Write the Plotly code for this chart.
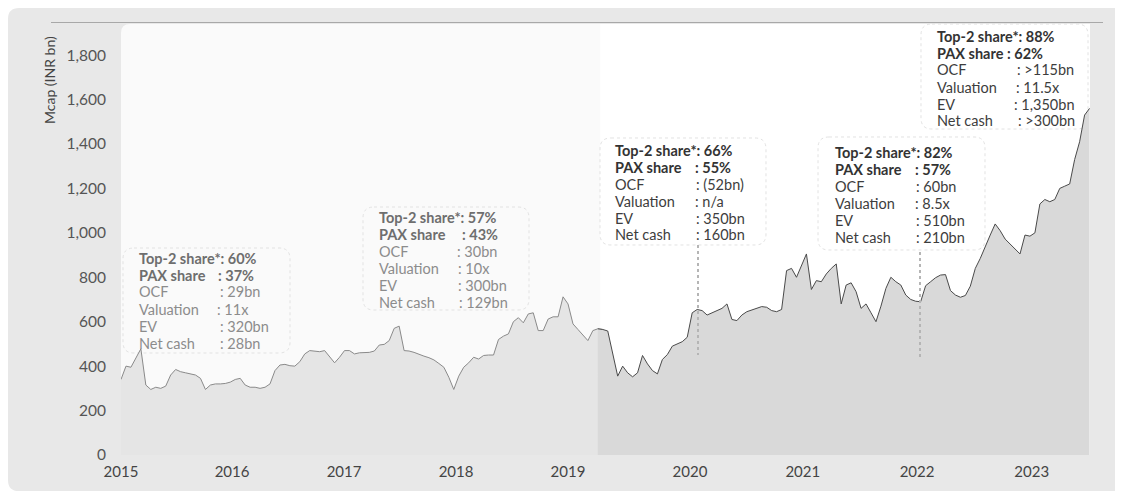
import plotly.graph_objects as go

# ---------------- data ----------------
years = ["2015", "2016", "2017", "2018", "2019", "2020", "2021", "2022", "2023"]
year_start_session = [0, 246, 494, 742, 990, 1260, 1510, 1763, 2017]
sample_step = 11
last_session = 2145
shade_start_session = 1061

mcap = [
    340, 400, 395, 440, 478, 315, 295, 305, 300, 310,
    360, 385, 375, 370, 365, 360, 345, 295, 315, 320,
    320, 322, 328, 340, 345, 315, 305, 305, 300, 305,
    320, 380, 405, 408, 402, 400, 420, 455, 470, 468,
    465, 470, 440, 415, 440, 470, 470, 455, 460, 460,
    462, 468, 495, 498, 515, 570, 580, 470, 468, 462,
    452, 445, 438, 428, 412, 395, 350, 295, 355, 395,
    415, 440, 432, 448, 450, 450, 520, 535, 545, 600,
    618, 595, 635, 640, 560, 560, 612, 622, 622, 712,
    680, 590, 565, 540, 515, 560, 568, 565, 558, 460,
    355, 400, 370, 352, 370, 448, 410, 380, 365, 430,
    452, 490, 500, 510, 530, 640, 655, 650, 630, 640,
    650, 660, 680, 610, 605, 630, 645, 652, 662, 668,
    665, 650, 645, 655, 830, 840, 800, 850, 905, 745,
    785, 780, 815, 840, 860, 680, 765, 775, 735, 660,
    680, 640, 600, 670, 750, 800, 780, 765, 720, 700,
    692, 690, 762, 780, 798, 810, 812, 740, 720, 710,
    718, 760, 840, 885, 940, 990, 1040, 1010, 972, 950,
    930, 905, 990, 985, 1000, 1130, 1150, 1140, 1150, 1200,
    1210, 1220, 1330, 1410, 1530, 1560,
]
sessions = [i * sample_step for i in range(len(mcap) - 1)] + [last_session]

y_ticks = [0, 200, 400, 600, 800, 1000, 1200, 1400, 1600, 1800]

top2_share = ["60%", "57%", "66%", "82%", "88%"]
pax_share = ["37%", "43%", "55%", "57%", "62%"]
ocf = ["29bn", "30bn", "(52bn)", "60bn", ">115bn"]
valuation = ["11x", "10x", "n/a", "8.5x", "11.5x"]
ev = ["320bn", "300bn", "350bn", "510bn", "1,350bn"]
net_cash = ["28bn", "129bn", "160bn", "210bn", ">300bn"]
row_labels = ["PAX share", "OCF", "Valuation", "EV", "Net cash"]

# ---------------- layout helpers (page pixels -> paper) ----------------
W, H = 1123, 493
OFF = 8  # page body margin
PL, PR, PT, PB = 121, 1090, 24, 455
X_MAX = 2146
Y_MAX = 1940
FONT = "Lato, 'Open Sans', sans-serif"


def fx(px):
    return (px - PL) / (PR - PL)


def fy(py):
    return (PB - py) / (PB - PT)


def rrect_path(x0, y0, x1, y1, r, corners=(True, True, True, True)):
    tl, tr, br, bl = [r if c else 0 for c in corners]
    P = lambda x, y: f"{fx(x):.5f},{fy(y):.5f}"
    d = f"M {P(x0 + tl, y0)} L {P(x1 - tr, y0)} "
    d += f"Q {P(x1, y0)} {P(x1, y0 + tr)} L {P(x1, y1 - br)} "
    d += f"Q {P(x1, y1)} {P(x1 - br, y1)} L {P(x0 + bl, y1)} "
    d += f"Q {P(x0, y1)} {P(x0, y1 - bl)} L {P(x0, y0 + tl)} "
    d += f"Q {P(x0, y0)} {P(x0 + tl, y0)} Z"
    return d


split_lo = max(i for i, s in enumerate(sessions) if s <= shade_start_session)
split_hi = split_lo + 1

fig = go.Figure()
fig.add_trace(go.Scatter(
    x=sessions[:split_hi + 1], y=mcap[:split_hi + 1], mode="lines",
    line=dict(color="#8a8a8a", width=1), fill="tozeroy", fillcolor="#e5e5e5",
    hoverinfo="skip", showlegend=False))
fig.add_trace(go.Scatter(
    x=sessions[split_lo:], y=mcap[split_lo:], mode="lines",
    line=dict(color="#4a4a4a", width=1), fill="tozeroy", fillcolor="#d9d9d9",
    hoverinfo="skip", showlegend=False))

shapes = []
# outer grey panel
shapes.append(dict(type="path", xref="paper", yref="paper", layer="below",
                   path=rrect_path(OFF, OFF, 1140, 491, 11), fillcolor="#e8e8e8",
                   line=dict(width=0)))
# plot background: faded left part and white right part
split_px = PL + shade_start_session * (PR - PL) / X_MAX
shapes.append(dict(type="path", xref="paper", yref="paper", layer="below",
                   path=rrect_path(PL, PT, split_px, PB, 9, (True, False, False, False)),
                   fillcolor="#fafafa", line=dict(width=0)))
shapes.append(dict(type="rect", xref="paper", yref="paper", layer="below",
                   x0=fx(split_px), x1=1, y0=0, y1=1, fillcolor="#ffffff",
                   line=dict(width=0)))
# top rule
shapes.append(dict(type="line", xref="paper", yref="paper", layer="above",
                   x0=fx(51), x1=fx(1103), y0=fy(22.5), y1=fy(22.5),
                   line=dict(color="#a8a8a8", width=1)))

# annotation boxes
box_rects = [(123, 248, 290, 353), (363, 207, 529, 310), (600, 138, 766, 245),
             (818, 137, 985, 250), (921, 24, 1088, 129)]
text_x = [137, 377, 613, 833, 935]
first_line_y = [258, 217, 150, 152, 36]
colon_offsets = [[79, 81, 78, 81, 81], [83, 78, 79, 79, 80], [80, 81, 80, 81, 81],
                 [80, 81, 80, 81, 81], [70, 80, 79, 77, 81]]
line_gap = 17
faded = [True, True, False, False, False]

for b, (x0, y0, x1, y1) in enumerate(box_rects):
    fill = "rgba(250,250,250,0.6)" if faded[b] else "rgba(255,255,255,0.85)"
    shapes.append(dict(type="path", xref="paper", yref="paper", layer="below",
                       path=rrect_path(x0, y0, x1, y1, 11), fillcolor=fill,
                       line=dict(color="#e2e2e2", width=1, dash="dot")))

# dotted markers
for px, py0, py1 in [(698, 245, 355), (920, 252, 358)]:
    shapes.append(dict(type="line", xref="paper", yref="paper", layer="above",
                       x0=fx(px), x1=fx(px), y0=fy(py0), y1=fy(py1),
                       line=dict(color="#b5b5b5", width=2, dash="dot")))

TXT = 14.5
annotations = []
for b in range(5):
    bold_c = "#6e6e6e" if faded[b] else "#333333"
    norm_c = "#8c8c8c" if faded[b] else "#3d3d3d"
    values = [pax_share[b], ocf[b], valuation[b], ev[b], net_cash[b]]
    yy = first_line_y[b]
    annotations.append(dict(
        xref="paper", yref="paper", x=fx(text_x[b]), y=fy(yy), xanchor="left",
        yanchor="middle", showarrow=False,
        text=f"<b>Top-2 share*: {top2_share[b]}</b>",
        font=dict(family=FONT, size=TXT, color=bold_c)))
    for k in range(5):
        ly = yy + line_gap * (k + 1)
        is_bold = k == 0
        lab = f"<b>{row_labels[k]}</b>" if is_bold else row_labels[k]
        val = f"<b>: {values[k]}</b>" if is_bold else f": {values[k]}"
        col = bold_c if is_bold else norm_c
        annotations.append(dict(
            xref="paper", yref="paper", x=fx(text_x[b]), y=fy(ly), xanchor="left",
            yanchor="middle", showarrow=False, text=lab,
            font=dict(family=FONT, size=TXT, color=col)))
        annotations.append(dict(
            xref="paper", yref="paper", x=fx(text_x[b] + colon_offsets[b][k]),
            y=fy(ly), xanchor="left", yanchor="middle", showarrow=False, text=val,
            font=dict(family=FONT, size=TXT, color=col)))

# y-axis title
annotations.append(dict(xref="paper", yref="paper", x=fx(49), y=fy(80),
                        xanchor="center", yanchor="middle", showarrow=False,
                        textangle=-90, text="Mcap (INR bn)",
                        font=dict(family=FONT, size=14, color="#444444")))

fig.update_layout(
    width=W - OFF, height=H - OFF,
    margin=dict(l=PL - OFF, r=W - PR, t=PT - OFF, b=H - PB),
    paper_bgcolor="#ffffff", plot_bgcolor="rgba(0,0,0,0)",
    shapes=shapes, annotations=annotations,
    font=dict(family=FONT),
)
fig.update_xaxes(range=[0, X_MAX], tickmode="array", tickvals=year_start_session,
                 ticktext=years, showgrid=False, zeroline=False, showline=False,
                 ticks="outside", ticklen=3, tickcolor="rgba(0,0,0,0)",
                 tickfont=dict(family=FONT, size=15, color="#444444"))
fig.update_yaxes(range=[0, Y_MAX], tickmode="array", tickvals=y_ticks,
                 tickformat=",", showgrid=False, zeroline=False, showline=False,
                 ticks="outside", ticklen=11, tickcolor="rgba(0,0,0,0)",
                 tickfont=dict(family=FONT, size=15.5, color="#555555"))

fig.write_html("out.html")
